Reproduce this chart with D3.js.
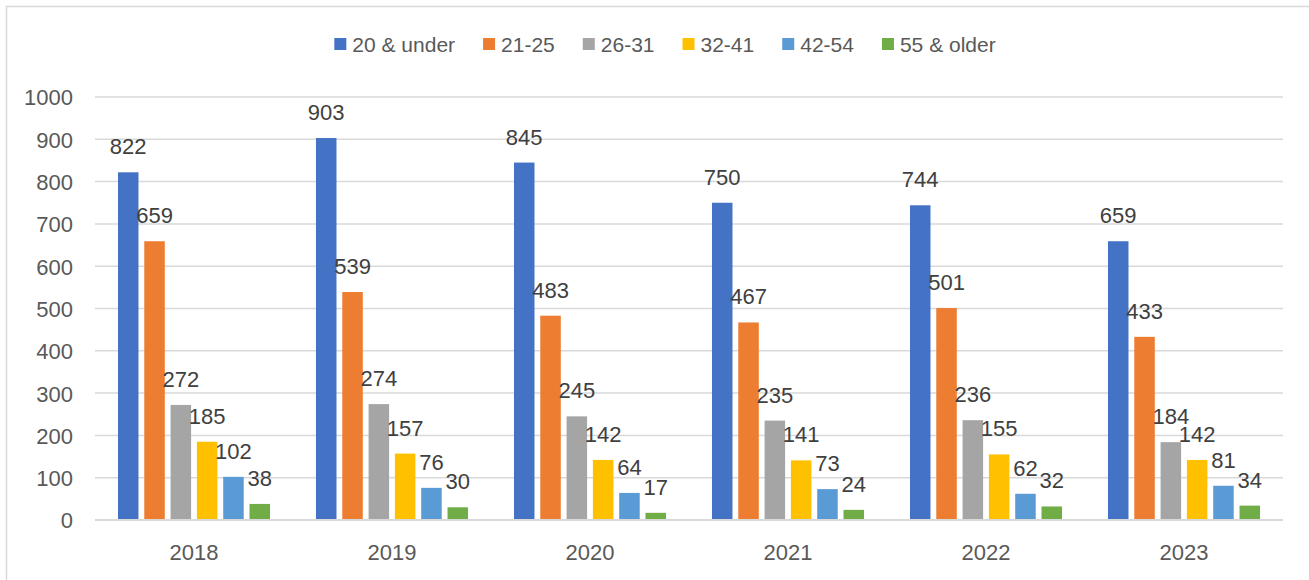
<!DOCTYPE html>
<html>
<head>
<meta charset="utf-8">
<script src="https://cdn.jsdelivr.net/npm/d3@7"></script>
<style>
  html, body { margin: 0; padding: 0; background: #fff; }
  svg text { font-family: "Liberation Sans", Arial, sans-serif; }
</style>
</head>
<body>
<svg id="chart" width="1309" height="580"></svg>
<script>
// chart data
const years = ['2018', '2019', '2020', '2021', '2022', '2023'];
const ageGroups = ['20 & under', '21-25', '26-31', '32-41', '42-54', '55 & older'];
const colors = ['#4472C4', '#ED7D31', '#A5A5A5', '#FFC000', '#5B9BD5', '#70AD47'];
const counts = [
    [822, 659, 272, 185, 102, 38],
    [903, 539, 274, 157, 76, 30],
    [845, 483, 245, 142, 64, 17],
    [750, 467, 235, 141, 73, 24],
    [744, 501, 236, 155, 62, 32],
    [659, 433, 184, 142, 81, 34]
];
const yTicks = [0, 100, 200, 300, 400, 500, 600, 700, 800, 900, 1000];

const svg = d3.select('#chart');
const plot = { left: 95, right: 1283, top: 97, bottom: 520 };

// outer chart border
svg.append('rect')
    .attr('x', 6.5).attr('y', 6.5)
    .attr('width', 1340).attr('height', 600)
    .attr('fill', 'none')
    .attr('stroke', '#D9D9D9')
    .attr('stroke-width', 1.5);

const x0 = d3.scaleBand()
    .domain(years)
    .range([plot.left, plot.right])
    .paddingInner(0.232)
    .paddingOuter(0.116);

const x1 = d3.scaleBand()
    .domain(ageGroups)
    .range([0, x0.bandwidth()])
    .paddingInner(0.22);

const y = d3.scaleLinear()
    .domain([0, 1000])
    .range([plot.bottom, plot.top]);

// gridlines
svg.append('g')
    .selectAll('line')
    .data(yTicks)
    .join('line')
    .attr('x1', plot.left).attr('x2', plot.right)
    .attr('y1', d => y(d)).attr('y2', d => y(d))
    .attr('stroke', '#D9D9D9')
    .attr('stroke-width', 1.5);

// y axis labels
const yAxis = svg.append('g')
    .attr('transform', `translate(${plot.left - 22},0)`)
    .call(d3.axisLeft(y).tickValues(yTicks).tickFormat(d3.format('d')).tickSize(0).tickPadding(0));
yAxis.select('.domain').remove();
yAxis.selectAll('text')
    .attr('fill', '#595959')
    .style('font-size', '22px')
    .attr('dy', '0.36em');

// x axis labels
const xAxis = svg.append('g')
    .attr('transform', `translate(0,${plot.bottom})`)
    .call(d3.axisBottom(x0).tickSize(0).tickPadding(0));
xAxis.select('.domain').remove();
xAxis.selectAll('text')
    .attr('fill', '#595959')
    .style('font-size', '22px')
    .attr('y', 40)
    .attr('dy', 0);

// bars
const groups = svg.append('g')
    .selectAll('g')
    .data(years)
    .join('g')
    .attr('transform', d => `translate(${x0(d)},0)`);

groups.selectAll('rect')
    .data((d, i) => ageGroups.map((g, j) => ({ group: g, value: counts[i][j], color: colors[j] })))
    .join('rect')
    .attr('x', d => x1(d.group))
    .attr('y', d => y(d.value))
    .attr('width', x1.bandwidth())
    .attr('height', d => y(0) - y(d.value))
    .attr('fill', d => d.color);

// data labels
groups.selectAll('text')
    .data((d, i) => ageGroups.map((g, j) => ({ group: g, value: counts[i][j] })))
    .join('text')
    .attr('x', d => x1(d.group) + x1.bandwidth() / 2)
    .attr('y', d => y(d.value) - 18)
    .attr('text-anchor', 'middle')
    .attr('fill', '#404040')
    .style('font-size', '22px')
    .text(d => d.value);

// baseline
svg.append('line')
    .attr('x1', plot.left).attr('x2', plot.right)
    .attr('y1', y(0)).attr('y2', y(0))
    .attr('stroke', '#D9D9D9')
    .attr('stroke-width', 2);

// legend
const legend = svg.append('g');
let cursor = 0;
ageGroups.forEach((g, i) => {
    const item = legend.append('g').attr('transform', `translate(${cursor},0)`);
    item.append('rect')
        .attr('x', 0).attr('y', -6)
        .attr('width', 12).attr('height', 12)
        .attr('fill', colors[i]);
    const label = item.append('text')
        .attr('x', 18)
        .attr('dy', '0.36em')
        .attr('fill', '#595959')
        .style('font-size', '21px')
        .text(g);
    cursor += 18 + label.node().getComputedTextLength() + 28;
});
const legendWidth = cursor - 28;
legend.attr('transform', `translate(${665 - legendWidth / 2},44)`);
</script>
</body>
</html>
